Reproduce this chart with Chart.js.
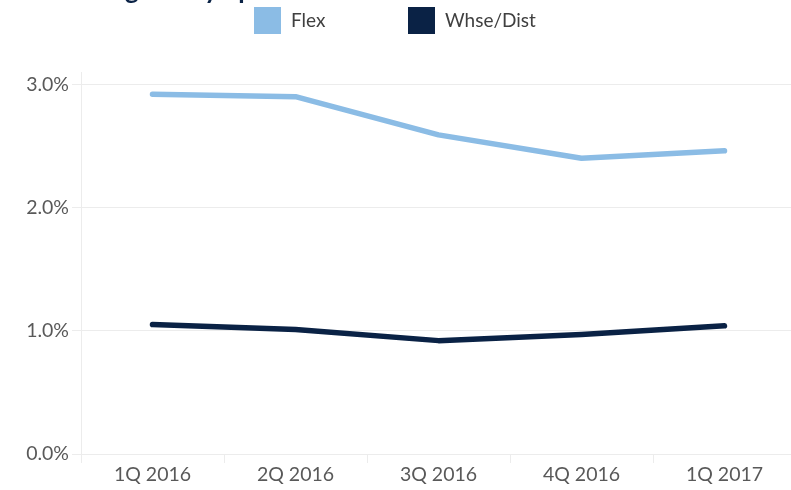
<!DOCTYPE html>
<html>
<head>
<meta charset="utf-8">
<script src="https://cdn.jsdelivr.net/npm/chart.js@4/dist/chart.umd.min.js"></script>
<style>
html,body{margin:0;padding:0;background:#fff;overflow:hidden;}
#wrap{width:791px;height:490px;overflow:hidden;position:relative;}
#box{width:798px;height:490px;position:absolute;left:0;top:0;}
</style>
</head>
<body>
<div id="wrap"><div id="box"><canvas id="c"></canvas></div></div>
<script>
const titleText = "Average Daily Spread";
const categories = ["1Q 2016", "2Q 2016", "3Q 2016", "4Q 2016", "1Q 2017"];
const flexValues = [2.92, 2.90, 2.59, 2.40, 2.46];
const whseValues = [1.05, 1.01, 0.92, 0.97, 1.04];
const seriesNames = ["Flex", "Whse/Dist"];
const seriesColors = ["#8bbce5", "#0a2245"];
const yTickValues = [0, 1, 2, 3];

const FONT = "Lato, 'Open Sans', sans-serif";

const cutTitle = {
  id: 'cutTitle',
  afterDraw(chart) {
    const ctx = chart.ctx;
    ctx.save();
    ctx.font = "bold 26px " + FONT;
    ctx.fillStyle = "#0b2346";
    ctx.textBaseline = "alphabetic";
    ctx.textAlign = "left";
    ctx.fillText(titleText, 58, -1);
    ctx.restore();
  }
};

const customLegend = {
  id: 'customLegend',
  afterDraw(chart) {
    const ctx = chart.ctx;
    ctx.save();
    ctx.font = "19px " + FONT;
    ctx.textBaseline = "middle";
    ctx.textAlign = "left";
    const startX = [254, 408];
    chart.data.datasets.forEach((d, i) => {
      const x = startX[i];
      ctx.fillStyle = d.borderColor;
      ctx.fillRect(x, 7, 27, 27);
      ctx.fillStyle = '#404040';
      ctx.fillText(d.label, x + 37, 21);
    });
    ctx.restore();
  }
};

new Chart(document.getElementById('c'), {
  type: 'line',
  data: {
    labels: categories,
    datasets: [
      { label: seriesNames[0], data: flexValues, borderColor: seriesColors[0], backgroundColor: seriesColors[0],
        borderWidth: 5.5, pointRadius: 0, tension: 0, borderCapStyle: 'round', borderJoinStyle: 'round' },
      { label: seriesNames[1], data: whseValues, borderColor: seriesColors[1], backgroundColor: seriesColors[1],
        borderWidth: 5.5, pointRadius: 0, tension: 0, borderCapStyle: 'round', borderJoinStyle: 'round' }
    ]
  },
  options: {
    responsive: true,
    maintainAspectRatio: false,
    animation: false,
    layout: { padding: { top: 72, right: 2, left: 0, bottom: 0 } },
    plugins: {
      title: { display: false },
      tooltip: { enabled: false },
      legend: { display: false }
    },
    scales: {
      x: {
        offset: true,
        grid: { display: true, drawOnChartArea: false, drawTicks: true, tickLength: 9, color: '#ececec', offset: true },
        border: { display: true, color: '#ececec', width: 1 },
        ticks: { color: '#595959', font: { family: FONT, size: 19.5 }, padding: 0 },
        afterFit(s) { s.height = 36; }
      },
      y: {
        min: 0, max: 3.1,
        afterBuildTicks(s) { s.ticks = yTickValues.map(v => ({ value: v })); },
        grid: { color: '#ececec', drawTicks: true, tickLength: 9 },
        border: { display: true, color: '#ececec' },
        ticks: {
          color: '#595959', font: { family: FONT, size: 19.5 }, padding: 3,
          callback: v => v.toFixed(1) + '%'
        },
        afterFit(s) { s.width = 81; }
      }
    }
  },
  plugins: [cutTitle, customLegend]
});
</script>
</body>
</html>
